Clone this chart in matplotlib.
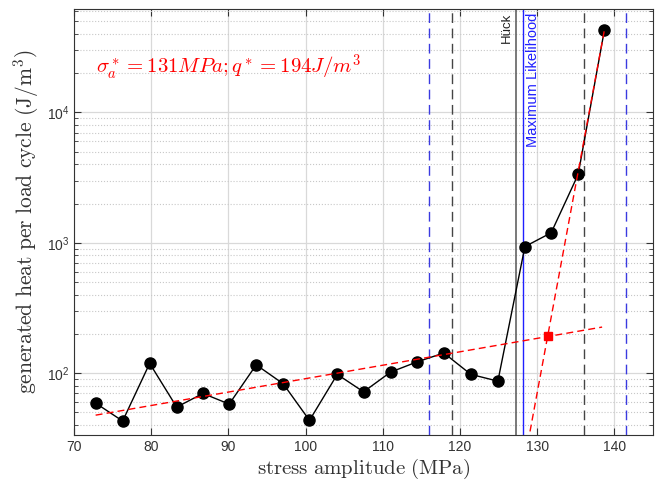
import numpy as np
import matplotlib
matplotlib.use("Agg")
import matplotlib.pyplot as plt
from matplotlib.ticker import LogLocator, NullFormatter

plt.rcParams['mathtext.fontset'] = 'cm'
plt.rcParams['font.family'] = ['Liberation Sans', 'DejaVu Sans']

# measured points
stress = [72.8, 76.3, 79.8, 83.3, 86.7, 90.1, 93.6, 97.1, 100.5, 104.1,
          107.5, 111.0, 114.4, 117.9, 121.4, 124.9, 128.4, 131.8, 135.3, 138.7]
heat = [59, 43, 119, 55, 70, 58, 116, 83, 43.5, 98,
        72, 102, 122, 143, 98, 87, 937, 1194, 3350, 43000]

# two fitted lines (end points)
fit_low_x = [72.8, 138.4]
fit_low_y = [47.7, 226]
fit_high_x = [128.8, 138.7]
fit_high_y = [29.5, 43000]

# intersection
sigma_star = 131.4
q_star = 194

# vertical reference lines
huck_x = 127.2
ml_x = 128.1
huck_band = [119.0, 136.1]
ml_band = [116.0, 141.5]

fig = plt.figure(figsize=(6.59, 4.88), dpi=100)
ax = fig.add_axes([0.1123, 0.1086, 0.8787, 0.873])

ax.set_yscale('log')
ax.set_xlim(70, 145)
ax.set_ylim(33.6, 62200)

ax.grid(True, which='major', color='#d9d9d9', linewidth=0.9)
ax.grid(True, which='minor', axis='y', color='#c8c8c8', linestyle=':', linewidth=0.8)
ax.set_axisbelow(True)

for xv in ml_band:
    ax.axvline(xv, color='#3a3ae0', linestyle=(0, (7, 4)), linewidth=1)
for xv in huck_band:
    ax.axvline(xv, color='#444444', linestyle=(0, (7, 4)), linewidth=1)
ax.axvline(huck_x, color='#555555', linewidth=1.1)
ax.axvline(ml_x, color='#2020ff', linewidth=1)

ax.plot(stress, heat, color='black', linewidth=1, marker='o', markersize=8, zorder=3)
ax.plot(fit_low_x, fit_low_y, color='red', linestyle=(0, (5, 3)), linewidth=1, zorder=4)
ax.plot(fit_high_x, fit_high_y, color='red', linestyle=(0, (5, 3)), linewidth=1, zorder=4)
ax.plot([sigma_star], [q_star], color='red', marker='s', markersize=5.5, linestyle='None', zorder=5)

ax.text(72.8, 22100, r'$\sigma_a^* = 131MPa; q^* = 194J/m^3$', color='red',
        fontsize=15, va='center', ha='left')
ax.text(126.8, 58000, 'Hück', rotation=90, ha='right', va='top', fontsize=9.5, color='#222222')
ax.text(128.5, 58000, 'Maximum Likelihood', rotation=90, ha='left', va='top', fontsize=10.5, color='#2020ff')

ax.set_xticks(range(70, 141, 10))
ax.yaxis.set_major_locator(LogLocator(base=10))
ax.yaxis.set_minor_locator(LogLocator(base=10, subs=np.arange(2, 10)))
ax.yaxis.set_minor_formatter(NullFormatter())
ax.tick_params(which='both', direction='in', top=True, right=True, colors='#333333', labelsize=10)
ax.tick_params(which='major', length=5)
ax.tick_params(which='minor', length=3)
for s in ax.spines.values():
    s.set_color('#333333')

ax.set_xlabel(r'$\mathrm{stress\ amplitude\ (MPa)}$', fontsize=15, color='#333333', labelpad=2)
ax.set_ylabel(r'$\mathrm{generated\ heat\ per\ load\ cycle\ (J/m^3)}$', fontsize=15.5, color='#333333', labelpad=4)

fig.savefig('out.png', dpi=100)
